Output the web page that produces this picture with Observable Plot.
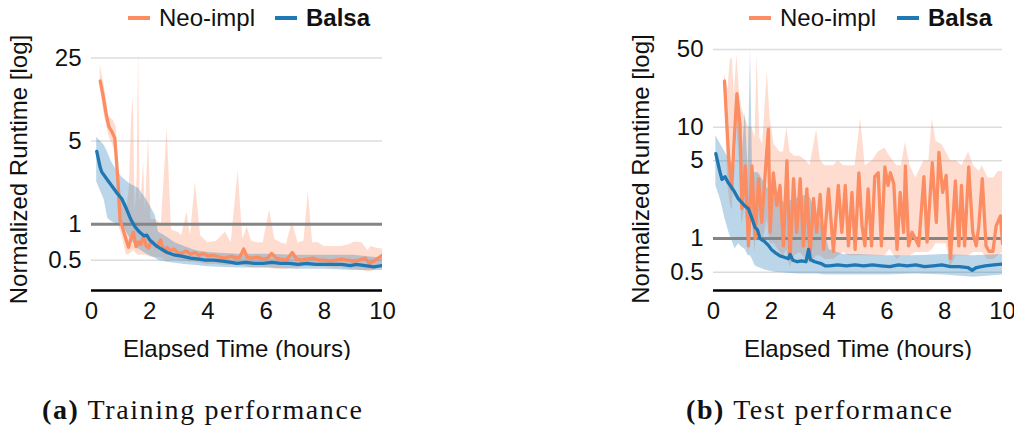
<!DOCTYPE html>
<html>
<head>
<meta charset="utf-8">
<script src="https://cdn.jsdelivr.net/npm/d3@7"></script>
<script src="https://cdn.jsdelivr.net/npm/@observablehq/plot@0.6"></script>
<style>
  body { margin: 0; background: #fff; }
  #wrap { position: relative; width: 1014px; height: 430px; overflow: hidden; font-family: "Liberation Sans", Arial, sans-serif; color: #111; }
  .panel { position: absolute; top: 0; }
  .sw { position: absolute; width: 22px; height: 4px; }
  .lt { position: absolute; font-size: 24px; line-height: 24px; white-space: nowrap; }
  .cap { position: absolute; top: 395px; font-family: "Liberation Serif", serif; font-size: 28px; line-height: 30px; letter-spacing: 1.6px; white-space: nowrap; }
</style>
</head>
<body>
<div id="wrap"></div>
<script>
// ---------- DATA ----------
const seriesNames = ["Neo-impl", "Balsa"];
const seriesColors = ["#fc8d62", "#1f77b4"];
const xTicks = [0, 2, 4, 6, 8, 10];
const trainYTicks = [0.5, 1, 5, 25];
const testYTicks = [0.5, 1, 5, 10, 50];
const captions = ["Training performance", "Test performance"];

// Training: [hours, median normalized runtime]
const trainNeo = [[0.3,16],[0.4,12],[0.5,8.5],[0.6,6.6],[0.7,6],[0.8,5.3],[0.9,2.5],[0.98,1.1],[1.05,0.97],[1.15,0.8],
  [1.27,0.64],[1.35,0.75],[1.44,0.86],[1.53,0.65],[1.62,0.71],[1.7,0.68],[1.79,0.8],[1.88,0.66],[1.96,0.63],[2.05,0.72],
  [2.14,0.7],[2.25,0.65],[2.37,0.74],[2.48,0.6],[2.6,0.64],[2.72,0.6],[2.83,0.62],[2.95,0.58],[3.1,0.57],[3.25,0.6],
  [3.4,0.56],[3.55,0.58],[3.7,0.55],[3.85,0.57],[4.0,0.54],[4.2,0.55],[4.4,0.53],[4.6,0.52],[4.8,0.54],[5.0,0.52],
  [5.1,0.53],[5.23,0.62],[5.35,0.53],[5.5,0.52],[5.7,0.53],[5.9,0.51],[6.05,0.52],[6.19,0.57],[6.35,0.52],[6.5,0.51],
  [6.7,0.5],[6.9,0.58],[7.05,0.51],[7.2,0.5],[7.4,0.51],[7.6,0.52],[7.8,0.5],[8.0,0.5],[8.2,0.49],[8.4,0.5],
  [8.6,0.51],[8.8,0.5],[9.0,0.49],[9.2,0.5],[9.4,0.52],[9.55,0.47],[9.7,0.49],[9.85,0.52],[10,0.55]];
// Training Neo-impl band: [hours, low, high]
const trainNeoBand = [[0.3,14,22],[0.45,8,14],[0.6,5.5,8],[0.75,4.5,7.5],[0.85,4,6.5],[0.95,0.95,2.5],[1.05,0.8,1.5],[1.2,0.55,1.3],
  [1.3,0.56,2],[1.38,0.58,8],[1.44,0.6,11.5],[1.5,0.58,1.2],[1.57,0.56,2.5],[1.62,0.55,29],[1.67,0.55,1.5],[1.73,0.55,2],
  [1.79,0.55,3.3],[1.85,0.55,1.3],[1.96,0.54,5.4],[2.05,0.53,1.1],[2.2,0.53,1.1],[2.4,0.52,1.0],[2.6,0.5,6.4],[2.75,0.5,0.9],
  [3.0,0.5,0.85],[3.1,0.49,0.8],[3.28,0.49,1.27],[3.4,0.48,0.8],[3.57,0.48,2.27],[3.75,0.47,0.8],[4.0,0.46,0.7],[4.3,0.46,0.72],
  [4.6,0.45,0.86],[4.8,0.45,0.7],[5.04,0.45,2.85],[5.2,0.45,0.75],[5.35,0.44,0.95],[5.5,0.43,0.72],[5.7,0.43,0.7],[5.9,0.43,0.7],
  [6.12,0.43,1.31],[6.3,0.42,0.75],[6.5,0.42,0.7],[6.7,0.42,0.68],[6.9,0.43,1.05],[7.1,0.43,0.7],[7.3,0.44,0.72],[7.45,0.44,1.87],
  [7.6,0.44,0.7],[7.8,0.44,0.7],[8.0,0.44,0.65],[8.3,0.43,0.65],[8.6,0.43,0.65],[8.9,0.42,0.68],[9.05,0.42,0.71],[9.3,0.41,0.7],
  [9.5,0.4,0.6],[9.6,0.4,0.65],[9.8,0.42,0.63],[10,0.45,0.62]];
const trainBalsa = [[0.18,4.1],[0.3,3.0],[0.35,2.76],[0.5,2.45],[0.7,2.1],[0.9,1.8],[1.04,1.64],[1.2,1.35],[1.35,1.1],[1.5,0.95],
  [1.65,0.86],[1.8,0.8],[1.9,0.81],[2.0,0.74],[2.19,0.67],[2.4,0.62],[2.6,0.58],[2.87,0.55],[3.1,0.54],[3.4,0.52],
  [3.7,0.51],[3.9,0.5],[4.2,0.5],[4.5,0.49],[4.8,0.48],[5.0,0.47],[5.3,0.48],[5.6,0.47],[5.9,0.47],[6.2,0.48],
  [6.5,0.47],[6.8,0.47],[7.1,0.46],[7.4,0.47],[7.7,0.46],[8.0,0.46],[8.3,0.46],[8.6,0.46],[8.9,0.45],[9.1,0.46],
  [9.4,0.45],[9.7,0.44],[10,0.45]];
const trainBalsaBand = [[0.18,2.27,5.4],[0.44,1.6,4.6],[0.56,1.12,4.0],[0.7,1.05,3.3],[0.9,1.0,2.75],[1.04,1.0,2.5],[1.3,0.78,2.2],
  [1.62,0.62,2.0],[1.9,0.56,1.6],[2.19,0.52,1.19],[2.3,0.5,0.86],[2.6,0.48,0.78],[2.87,0.47,0.7],[3.2,0.46,0.65],[3.6,0.45,0.6],
  [4.0,0.44,0.58],[5.0,0.43,0.56],[6.0,0.43,0.56],[7.0,0.42,0.55],[8.0,0.42,0.55],[9.0,0.41,0.55],[10,0.41,0.52]];

// Test
const testNeo = [[0.38,26],[0.52,5.6],[0.63,2.8],[0.72,8],[0.81,20],[0.92,10.3],[0.98,1.86],[1.1,4.5],[1.21,0.86],[1.33,4.5],
  [1.44,1.0],[1.56,3.45],[1.67,1.4],[1.79,3.9],[1.9,9.6],[1.96,1.14],[2.07,3.9],[2.19,1.98],[2.3,3.0],[2.42,0.86],
  [2.54,5.0],[2.65,0.66],[2.77,3.45],[2.88,1.14],[3.0,3.45],[3.11,0.86],[3.23,2.8],[3.34,0.7],[3.46,2.3],[3.57,1.14],
  [3.69,2.5],[3.81,0.8],[3.98,2.8],[4.15,0.77],[4.32,3.0],[4.44,1.14],[4.56,3.0],[4.67,0.86],[4.79,2.6],[4.9,0.8],
  [5.03,3.9],[5.14,1.3],[5.24,0.86],[5.35,2.8],[5.47,0.86],[5.58,3.6],[5.7,3.9],[5.81,0.86],[5.93,4.4],[6.04,3.0],
  [6.12,3.9],[6.24,3.1],[6.35,0.8],[6.46,2.6],[6.58,1.14],[6.64,4.5],[6.75,0.86],[6.87,1.14],[6.98,1.0],[7.1,0.86],
  [7.28,3.6],[7.39,0.93],[7.57,4.8],[7.71,1.4],[7.8,5.95],[7.93,2.6],[8.05,3.7],[8.2,0.66],[8.37,3.3],[8.49,0.86],
  [8.58,3.0],[8.69,0.86],[8.83,4.4],[8.97,1.14],[9.09,0.86],[9.18,1.3],[9.3,3.45],[9.43,0.86],[9.53,0.77],[9.67,0.77],
  [9.78,1.3],[9.93,1.6],[10,0.9]];
const testNeoBand = [[0.38,20,30],[0.5,3,22],[0.58,2,40],[0.65,1.8,42],[0.72,4,20],[0.81,10,45],[0.9,5,20],[0.98,1.3,15],
  [1.1,2,12],[1.21,0.7,10],[1.33,1.5,10],[1.44,0.75,8],[1.51,1.5,45],[1.6,1.0,8],[1.7,0.9,7],[1.86,1.5,32],[1.96,0.9,12],
  [2.1,0.9,7],[2.3,0.75,6],[2.42,0.7,6],[2.54,0.8,10],[2.65,0.55,6],[2.8,0.7,5.5],[3.0,0.75,5.5],[3.2,0.65,5],[3.34,0.6,4.5],
  [3.57,0.7,9.5],[3.7,0.7,5],[3.85,0.65,4.5],[4.0,0.65,4.5],[4.15,0.65,4.5],[4.32,0.7,5],[4.5,0.75,4.5],[4.67,0.7,4.5],
  [4.9,0.7,4.5],[5.09,0.7,12],[5.25,0.7,4.5],[5.5,0.7,5],[5.7,0.7,6],[5.93,0.7,6.5],[6.1,0.8,5.5],[6.35,0.65,4.5],[6.5,0.7,4.5],
  [6.64,0.7,7.3],[6.8,0.7,4.5],[7.0,0.75,3.5],[7.28,0.75,5],[7.45,0.75,5],[7.57,0.8,12],[7.7,0.9,7.5],[7.9,0.9,7],[8.05,0.9,6],
  [8.2,0.55,5],[8.4,0.7,5],[8.6,0.7,4.5],[8.83,0.7,6],[9.0,0.75,4.5],[9.2,0.75,4],[9.3,0.75,4.5],[9.5,0.65,3.5],[9.7,0.65,3.5],
  [9.85,0.7,4],[10,0.75,4]];
const testBalsa = [[0.08,5.8],[0.2,4.2],[0.29,3.4],[0.4,3.6],[0.5,3.2],[0.58,3.0],[0.7,2.7],[0.85,2.3],[0.98,2.1],[1.1,1.95],
  [1.21,1.85],[1.3,1.6],[1.44,1.26],[1.52,1.2],[1.61,1.0],[1.75,0.95],[1.9,0.87],[2.0,0.8],[2.13,0.75],[2.3,0.7],
  [2.45,0.68],[2.59,0.66],[2.65,0.72],[2.75,0.64],[2.9,0.62],[3.05,0.63],[3.2,0.62],[3.29,0.8],[3.35,0.65],[3.5,0.62],
  [3.7,0.6],[3.86,0.57],[4.0,0.57],[4.3,0.58],[4.6,0.57],[4.9,0.58],[5.2,0.57],[5.5,0.58],[5.8,0.57],[6.1,0.56],
  [6.4,0.58],[6.7,0.57],[7.0,0.58],[7.3,0.56],[7.6,0.57],[7.9,0.58],[8.2,0.56],[8.5,0.56],[8.8,0.55],[8.95,0.52],
  [9.1,0.55],[9.4,0.57],[9.7,0.58],[10,0.59]];
const testBalsaBand = [[0.08,3.0,8.4],[0.25,2.2,7],[0.4,1.5,6],[0.55,1.1,5],[0.75,0.81,4.5],[0.87,0.9,20],[0.95,0.85,4],
  [1.1,0.8,13.6],[1.2,0.7,4],[1.28,0.7,50],[1.35,0.65,4],[1.44,0.57,3.9],[1.56,0.55,3.9],[1.8,0.52,3],[2.13,0.5,2.3],
  [2.5,0.49,2.1],[2.9,0.48,2.3],[3.3,0.48,2.5],[3.6,0.48,1.6],[3.86,0.47,1.14],[4.0,0.47,0.8],[4.5,0.47,0.72],[5,0.47,0.72],
  [6,0.47,0.7],[7,0.48,0.7],[8,0.47,0.72],[9,0.45,0.7],[10,0.47,0.72]];

// ---------- DRAW ----------
function panel({neo, neoBand, balsa, balsaBand, yDomain, yTicks, width, marginLeft, marginRight, marginTop}) {
  const lineSeries = [
    ...neo.map(([x, y]) => ({x, y, s: seriesNames[0]})),
    ...balsa.map(([x, y]) => ({x, y, s: seriesNames[1]}))
  ];
  return Plot.plot({
    width, height: 360, marginLeft, marginRight, marginTop, marginBottom: 70,
    style: {fontFamily: "Liberation Sans, Arial, sans-serif", fontSize: "24px", color: "#111", background: "transparent"},
    x: {domain: [0, 10], ticks: xTicks, tickSize: 0, tickPadding: 11, label: "Elapsed Time (hours)", labelAnchor: "center", labelOffset: 66, labelArrow: "none"},
    y: {type: "log", domain: yDomain, ticks: yTicks, tickFormat: d => String(d), tickSize: 0, tickPadding: 10,
        label: "Normalized Runtime [log]", labelAnchor: "center", labelOffset: 82, labelArrow: "none"},
    color: {domain: seriesNames, range: seriesColors},
    marks: [
      Plot.ruleY(yTicks.filter(d => d !== 1), {stroke: "#dcdcdc", strokeWidth: 1.5}),
      Plot.areaY(neoBand, {x: d => d[0], y1: d => d[1], y2: d => d[2], fill: seriesColors[0], fillOpacity: 0.3, clip: true}),
      Plot.areaY(balsaBand, {x: d => d[0], y1: d => d[1], y2: d => d[2], fill: seriesColors[1], fillOpacity: 0.3, clip: true}),
      Plot.ruleY([1], {stroke: "#858585", strokeWidth: 3}),
      Plot.line(lineSeries, {x: "x", y: "y", z: "s", stroke: "s", strokeWidth: 3.3, clip: true}),
      Plot.ruleY([yDomain[0]], {stroke: "#000", strokeWidth: 2.5})
    ]
  });
}

const wrap = document.getElementById("wrap");
const left = panel({neo: trainNeo, neoBand: trainNeoBand, balsa: trainBalsa, balsaBand: trainBalsaBand,
  yDomain: [0.278, 30], yTicks: trainYTicks, width: 400, marginLeft: 91, marginRight: 18, marginTop: 48});
left.classList.add("panel"); left.style.left = "0px";
wrap.appendChild(left);

const right = panel({neo: testNeo, neoBand: testNeoBand, balsa: testBalsa, balsaBand: testBalsaBand,
  yDomain: [0.342, 52], yTicks: testYTicks, width: 394, marginLeft: 93, marginRight: 12, marginTop: 47});
right.classList.add("panel"); right.style.left = "620px";
wrap.appendChild(right);

// legends
function legend(items) {
  items.forEach(([kind, x, i]) => {
    if (kind === "sw") {
      const d = document.createElement("div");
      d.className = "sw"; d.style.left = x + "px"; d.style.top = "16px"; d.style.background = seriesColors[i];
      wrap.appendChild(d);
    } else {
      const t = document.createElement("div");
      t.className = "lt"; t.style.left = x + "px"; t.style.top = "6px";
      t.textContent = seriesNames[i];
      if (i === 1) t.style.fontWeight = "bold";
      wrap.appendChild(t);
    }
  });
}
legend([["sw",128,0],["tx",159,0],["sw",275,1],["tx",306,1]]);
legend([["sw",749,0],["tx",780,0],["sw",897,1],["tx",928,1]]);

// captions
[["(a)", 42, 0], ["(b)", 686, 1]].forEach(([lab, x, i]) => {
  const c = document.createElement("div");
  c.className = "cap"; c.style.left = x + "px";
  const b = document.createElement("b"); b.textContent = lab;
  c.appendChild(b);
  c.appendChild(document.createTextNode(" " + captions[i]));
  wrap.appendChild(c);
});
</script>
</body>
</html>
